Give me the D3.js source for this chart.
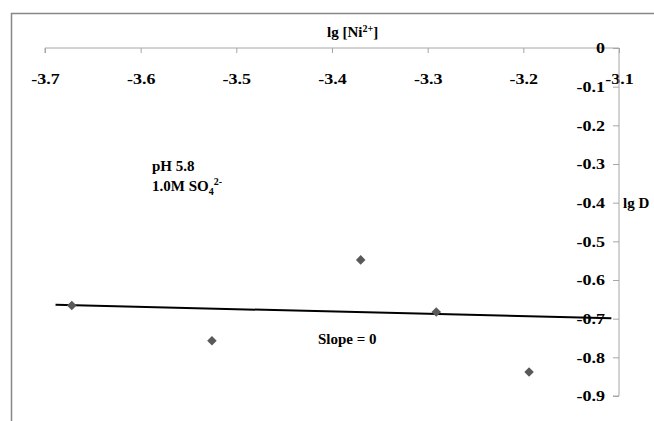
<!DOCTYPE html>
<html>
<head>
<meta charset="utf-8">
<script src="https://cdn.jsdelivr.net/npm/d3@7/dist/d3.min.js"></script>
<style>
  html, body { margin: 0; padding: 0; background: #fff; }
  svg { display: block; }
  text { font-family: "Liberation Serif", "Times New Roman", serif; font-weight: bold; fill: #000; }
</style>
</head>
<body>
<svg id="chart" width="654" height="421"></svg>
<script>
// lg[Ni2+] of each sample and the measured lg D
const lgNi = [-3.672, -3.5255, -3.370, -3.291, -3.194];
const lgD = [-0.666, -0.757, -0.548, -0.683, -0.838];
// end points of the fitted trend line
const trendX = [-3.689, -3.108];
const trendY = [-0.664, -0.699];
const xTicks = [-3.7, -3.6, -3.5, -3.4, -3.3, -3.2, -3.1];
const yTicks = [0, -0.1, -0.2, -0.3, -0.4, -0.5, -0.6, -0.7, -0.8, -0.9];

const svg = d3.select("#chart");
const W = 654, H = 421;

const x = d3.scaleLinear().domain([-3.7, -3.1]).range([45, 619]);
const y = d3.scaleLinear().domain([0, -0.9]).range([48, 396]);

const fmt = v => (v === 0 ? "0" : d3.format(".1f")(v).replace("\u2212", "-"));
const stretch = 1.2; // tick numbers are set slightly wide

// chart area frame
svg.append("path")
  .attr("d", `M11.5,${H} V13.5 H${W}`)
  .attr("fill", "none")
  .attr("stroke", "#878787")
  .attr("stroke-width", 1.5);

// horizontal axis along lg D = 0
const xAxis = svg.append("g")
  .attr("transform", `translate(0,${y(0)})`)
  .call(d3.axisBottom(x).tickValues(xTicks).tickSize(5).tickPadding(20).tickFormat(fmt));
xAxis.select(".domain").attr("stroke", "#a6a6a6").attr("d", `M${x(-3.7)},5V0H${x(-3.1)}`);
xAxis.selectAll(".tick line").attr("stroke", "#a6a6a6");
xAxis.selectAll(".tick text")
  .attr("font-size", 15).attr("fill", "#000")
  .attr("transform", `scale(${stretch},1)`);

// vertical axis at lg[Ni2+] = -3.1
const yAxis = svg.append("g")
  .attr("transform", `translate(${x(-3.1)},0)`)
  .call(d3.axisLeft(y).tickValues(yTicks).tickSize(6).tickPadding(8).tickFormat(fmt));
yAxis.select(".domain").attr("stroke", "#a6a6a6").attr("d", `M0,${y(0)}V${y(-0.9)}H-6`);
yAxis.selectAll(".tick line").attr("stroke", "#a6a6a6");
yAxis.selectAll(".tick text")
  .attr("font-size", 15).attr("fill", "#000")
  .attr("x", -14 / stretch)
  .attr("transform", `scale(${stretch},1)`);

// axis titles
const xTitle = svg.append("text")
  .attr("x", 327).attr("y", 37)
  .attr("font-size", 15);
xTitle.append("tspan").text("lg [Ni");
xTitle.append("tspan").text("2+").attr("font-size", 10).attr("dy", -5);
xTitle.append("tspan").text("]").attr("dy", 5);

svg.append("text")
  .attr("x", 623).attr("y", 208)
  .attr("font-size", 15)
  .text("lg D");

// conditions
svg.append("text")
  .attr("x", 152).attr("y", 171)
  .attr("font-size", 15)
  .text("pH 5.8");
const cond = svg.append("text")
  .attr("x", 152).attr("y", 191)
  .attr("font-size", 15);
cond.append("tspan").text("1.0M SO");
cond.append("tspan").text("4").attr("font-size", 10).attr("dy", 4);
cond.append("tspan").text("2-").attr("font-size", 10).attr("dy", -10);

svg.append("text")
  .attr("x", 318).attr("y", 344)
  .attr("font-size", 15)
  .text("Slope = 0");

// trend line
svg.append("line")
  .attr("x1", x(trendX[0])).attr("y1", y(trendY[0]))
  .attr("x2", x(trendX[1])).attr("y2", y(trendY[1]))
  .attr("stroke", "#000")
  .attr("stroke-width", 2);

// data points
svg.selectAll("path.pt")
  .data(lgNi.map((v, i) => [v, lgD[i]]))
  .join("path")
  .attr("class", "pt")
  .attr("d", d3.symbol().type(d3.symbolDiamond2).size(58))
  .attr("transform", d => `translate(${x(d[0])},${y(d[1])})`)
  .attr("fill", "#595959");
</script>
</body>
</html>
